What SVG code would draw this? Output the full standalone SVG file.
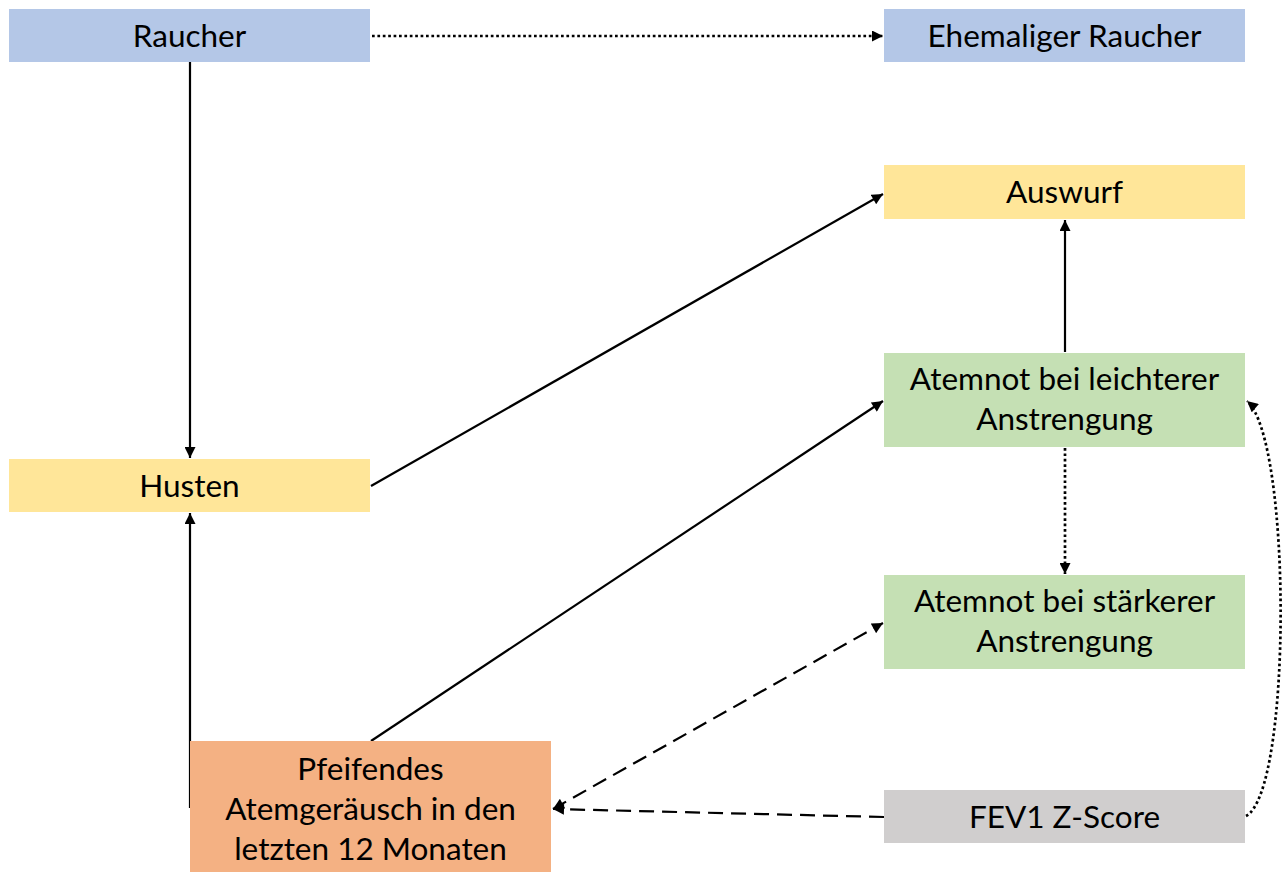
<svg xmlns="http://www.w3.org/2000/svg" width="1285" height="872" viewBox="0 0 1285 872">
<style>
.box{stroke:none}
.blue{fill:#B4C7E7}.yellow{fill:#FFE699}.green{fill:#C5E0B4}.orange{fill:#F4B183}.gray{fill:#D0CECE}
text{font-family:"Lato","Liberation Sans",sans-serif;font-size:31.5px;fill:#000;text-anchor:middle}
.c{fill:none;stroke:#000;stroke-width:2.2}
.dot{stroke-width:2.7;stroke-dasharray:2.7 2.7}
.dash{stroke-dasharray:15 8}
</style>
<defs>
<marker id="ah" viewBox="0 0 10 10" refX="10" refY="5" markerWidth="12" markerHeight="11" markerUnits="userSpaceOnUse" orient="auto-start-reverse">
<path d="M0,0 L10,5 L0,10 z" fill="#000"/>
</marker>
</defs>
<rect width="1285" height="872" fill="#fff"/>
<g id="connectors">
<line class="c dot" x1="372" y1="36" x2="883" y2="36" marker-end="url(#ah)"/>
<line class="c" x1="190" y1="62" x2="190" y2="458" marker-end="url(#ah)"/>
<line class="c" x1="190" y1="808" x2="190" y2="513" marker-end="url(#ah)"/>
<line class="c" x1="371" y1="486" x2="883" y2="194" marker-end="url(#ah)"/>
<line class="c" x1="371" y1="741" x2="883" y2="401" marker-end="url(#ah)"/>
<line class="c" x1="1065" y1="352" x2="1065" y2="220" marker-end="url(#ah)"/>
<line class="c dot" x1="1065" y1="448" x2="1065" y2="574" marker-end="url(#ah)"/>
<line class="c dash" x1="553" y1="809" x2="883" y2="623" marker-start="url(#ah)" marker-end="url(#ah)"/>
<line class="c dash" x1="884" y1="817" x2="553" y2="809" marker-end="url(#ah)"/>
<path class="c dot" d="M1246,816 C1292,792 1292,440 1247,401" marker-end="url(#ah)"/>
</g>
<g id="raucher"><rect class="box blue" x="9" y="9" width="361" height="53"/><text x="189.5" y="47">Raucher</text></g>
<g id="ehemaliger"><rect class="box blue" x="884" y="9" width="361" height="53"/><text x="1064.5" y="47">Ehemaliger Raucher</text></g>
<g id="auswurf"><rect class="box yellow" x="884" y="165" width="361" height="54"/><text x="1064.5" y="203">Auswurf</text></g>
<g id="husten"><rect class="box yellow" x="9" y="459" width="361" height="53"/><text x="189.5" y="497">Husten</text></g>
<g id="atemnot-leicht"><rect class="box green" x="884" y="353" width="361" height="94"/><text x="1064.5" y="390">Atemnot bei leichterer</text><text x="1064.5" y="430">Anstrengung</text></g>
<g id="atemnot-stark"><rect class="box green" x="884" y="575" width="361" height="94"/><text x="1064.5" y="612">Atemnot bei stärkerer</text><text x="1064.5" y="652">Anstrengung</text></g>
<g id="fev1"><rect class="box gray" x="884" y="790" width="361" height="53"/><text x="1064.5" y="828">FEV1 Z-Score</text></g>
<g id="pfeifend"><rect class="box orange" x="190" y="741" width="361" height="131"/><text x="370.5" y="780">Pfeifendes</text><text x="370.5" y="820">Atemgeräusch in den</text><text x="370.5" y="860">letzten 12 Monaten</text></g>
</svg>
